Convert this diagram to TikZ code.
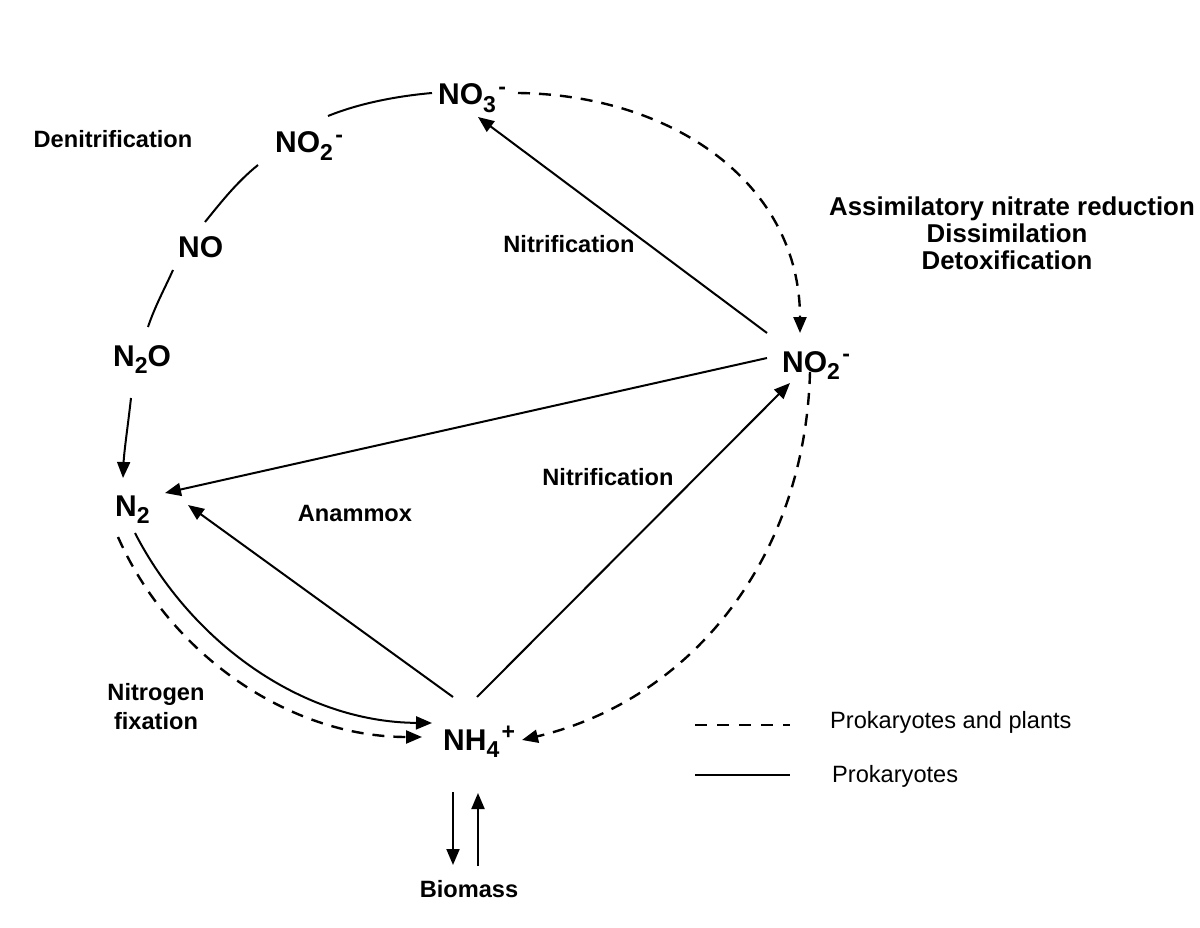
\documentclass[tikz,border=0pt]{standalone}
\usepackage{fontspec}
\setmainfont{Liberation Sans}
\usetikzlibrary{arrows.meta}
\newcommand\chsub[1]{\raisebox{-0.24em}{\fontsize{23}{23}\selectfont #1}}
\newcommand\chsup[1]{\kern0.08em\raisebox{0.36em}{\fontsize{23}{23}\selectfont #1}}
\begin{document}
\begin{tikzpicture}[x=1pt,y=-1pt,
  chem/.style={font=\fontsize{30}{36}\selectfont\bfseries, inner sep=0pt, anchor=base west},
  lbl/.style={font=\fontsize{23.6}{28}\selectfont\bfseries, inner sep=0pt, anchor=base},
  rlbl/.style={font=\fontsize{25.8}{30}\selectfont\bfseries, inner sep=0pt, anchor=base},
  leg/.style={font=\fontsize{23.6}{28}\selectfont, inner sep=0pt, anchor=base west},
  conn/.style={line width=2pt},
  arr/.style={conn, -{Triangle[length=16pt,width=13pt]}},
  dsh/.style={line width=2.4pt, dash pattern=on 12pt off 9pt},
]
\useasboundingbox[fill=white] (0,0) rectangle (1200,928);

% species
\node[chem] (no3)  at (438,105) {NO\chsub{3}\chsup{-}};
\node[chem] (no2a) at (275,153) {NO\chsub{2}\chsup{-}};
\node[chem] (no)   at (178,258) {NO};
\node[chem] (n2o)  at (113,366) {N\chsub{2}O};
\node[chem] (n2)   at (115,516) {N\chsub{2}};
\node[chem] (nh4)  at (443,750) {NH\chsub{4}\chsup{+}};
\node[chem] (no2b) at (782,372) {NO\chsub{2}\chsup{-}};

% labels
\node[lbl] (denit) at (113,148) {Denitrification};
\node[lbl] (nitr1) at (569,253) {Nitrification};
\node[lbl] (nitr2) at (608,485) {Nitrification};
\node[lbl] (anam)  at (355,521) {Anammox};
\node[rlbl] (as1) at (1012,216) {Assimilatory nitrate reduction};
\node[rlbl] (as2) at (1007,243) {Dissimilation};
\node[rlbl] (as3) at (1007,270) {Detoxification};
\node[lbl] (nf1) at (156,700) {Nitrogen};
\node[lbl] (nf2) at (156,729) {fixation};
\node[lbl] (bio) at (469,897) {Biomass};

% legend
\node[leg] (leg1) at (830,728) {Prokaryotes and plants};
\node[leg] (leg2) at (832,782) {Prokaryotes};
\draw[line width=2.6pt, dash pattern=on 12pt off 10pt] (695,725) -- (790,725);
\draw[line width=2.6pt] (695,775) -- (790,775);

% denitrification arc
\draw[conn] ([xshift=-6pt,yshift=12pt]no3.base west) .. controls (398,96) and (360,103) .. ([xshift=53pt,yshift=37pt]no2a.base west);
\draw[conn] ([xshift=-17pt,yshift=-12pt]no2a.base west) .. controls (237,182) and (222,201) .. ([xshift=27pt,yshift=36pt]no.base west);
\draw[conn] ([xshift=-5pt,yshift=-12pt]no.base west) .. controls (165,288) and (155,306) .. ([xshift=35pt,yshift=39pt]n2o.base west);
\draw[arr] ([xshift=18pt,yshift=-32pt]n2o.base west) .. controls (128,425) and (124,452) .. ([xshift=8pt,yshift=38pt]n2.base west);

% dashed arcs
\draw[arr,dsh] ([xshift=80pt,yshift=12pt]no3.base west) .. controls (675,95) and (800,185) .. ([xshift=18pt,yshift=39pt]no2b.base west);
\draw[arr,dsh] ([xshift=28pt]no2b.base west) .. controls (805,560) and (690,700) .. ([xshift=79pt,yshift=10pt]nh4.base west);

% straight reactions
\draw[arr] ([xshift=-15pt,yshift=39pt]no2b.base west) -- ([xshift=40pt,yshift=-12pt]no3.base west);
\draw[arr] ([xshift=-15pt,yshift=14pt]no2b.base west) -- ([xshift=50pt,yshift=23pt]n2.base west);
\draw[arr] ([xshift=34pt,yshift=53pt]nh4.base west) -- ([xshift=8pt,yshift=-11pt]no2b.base west);
\draw[arr] ([xshift=10pt,yshift=53pt]nh4.base west) -- ([xshift=73pt,yshift=11pt]n2.base west);

% nitrogen fixation
\draw[arr] ([xshift=20pt,yshift=-17pt]n2.base west) .. controls (190,640) and (300,722) .. ([xshift=-11pt,yshift=27pt]nh4.base west);
\draw[arr,dsh] ([xshift=3pt,yshift=-21pt]n2.base west) .. controls (170,655) and (290,737) .. ([xshift=-21pt,yshift=13pt]nh4.base west);

% biomass
\draw[arr] ([xshift=10pt,yshift=-42pt]nh4.base west) -- ([xshift=-16pt,yshift=32pt]bio.base);
\draw[arr] ([xshift=9pt,yshift=31pt]bio.base) -- ([xshift=35pt,yshift=-43pt]nh4.base west);
\end{tikzpicture}
\end{document}
